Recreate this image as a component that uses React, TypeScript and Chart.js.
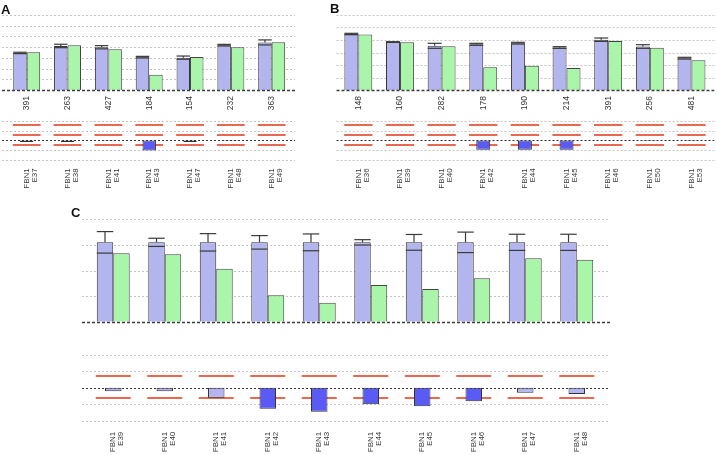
import React, { useEffect, useRef } from "react";
import { Chart, registerables } from "chart.js";

Chart.register(...registerables);

const FONT = "'Liberation Sans', Arial, Helvetica, sans-serif";
const gene = "FBN1";

// ---------- Panel A ----------
const numbersA = ["391", "263", "427", "184", "154", "232", "363"];
const exonsA = ["E37", "E38", "E41", "E43", "E47", "E48", "E49"];
const controlA = [69.2, 82.2, 79.8, 61.3, 60.4, 83.7, 88.8];
const controlErrA = [1.3, 3.2, 3.0, 1.5, 3.0, 1.5, 4.7];
const patientA = [70.5, 83.5, 76.0, 28.6, 61.7, 79.8, 89.0];
const ratioA = [-0.15, -0.15, -0.05, -1.0, -0.15, -0.05, 0];

// ---------- Panel B ----------
const numbersB = ["148", "160", "282", "178", "190", "214", "391", "256", "481"];
const exonsB = ["E36", "E39", "E40", "E42", "E44", "E45", "E46", "E50", "E53"];
const controlB = [89.6, 76.8, 70.7, 73.1, 74.9, 68.0, 80.5, 69.6, 50.9];
const controlErrB = [1.1, 0.5, 4.0, 1.6, 1.4, 1.3, 2.7, 2.9, 1.4];
const patientB = [89.0, 76.3, 70.0, 36.3, 39.0, 35.2, 78.4, 67.7, 47.5];
const ratioB = [0, 0, 0, -0.93, -0.93, -0.93, 0, -0.05, -0.05];

// ---------- Panel C ----------
const exonsC = ["E39", "E40", "E41", "E42", "E43", "E44", "E45", "E46", "E47", "E48"];
const controlC = [77.5, 77.5, 77.5, 77.5, 77.5, 77.5, 77.5, 77.5, 77.5, 77.5];
const controlErrC = [10.5, 4.0, 8.5, 6.6, 8.2, 2.6, 7.7, 10.0, 7.9, 7.9];
const patientC = [66.8, 65.8, 51.8, 25.8, 18.6, 35.8, 31.9, 42.4, 61.9, 60.5];
const ratioC = [-0.2, -0.2, -0.6, -1.28, -1.45, -1.0, -1.12, -0.82, -0.3, -0.37];

// thresholds (red lines)
const thresholdsAB = [1.6, 0.58, -0.44];
const thresholdsC = [0.75, -0.63];

const BLUE = "#b3b5ee";
const GREEN = "#a9f5a9";
const DARK_BOX = "#5a5af5";
const LIGHT_BOX = "#b4b4f0";
const RED = "#e8694f";

type DecoOpts = {
  extL: number;
  extR: number;
  errors?: number[];
  thresholds?: number[];
  zeroTop: boolean;
  redFrac?: number;
};

function decoPlugin(o: DecoOpts) {
  const hline = (ctx: CanvasRenderingContext2D, x1: number, x2: number, y: number) => {
    ctx.beginPath();
    ctx.moveTo(x1, y);
    ctx.lineTo(x2, y);
    ctx.stroke();
  };
  const zero = (chart: any) => {
    const { ctx, chartArea: a, scales } = chart;
    const py = Math.round(scales.y.getPixelForValue(0)) + 0.5;
    ctx.save();
    ctx.strokeStyle = o.zeroTop ? "#3c3c3c" : "#333";
    ctx.lineWidth = o.zeroTop ? 1.3 : 1;
    ctx.setLineDash(o.zeroTop ? [3, 2] : [2, 2]);
    hline(ctx, a.left - o.extL, a.right + o.extR, py);
    ctx.restore();
  };
  return {
    id: "deco",
    beforeDatasetsDraw(chart: any) {
      const { ctx, chartArea: a, scales } = chart;
      const x = scales.x;
      const y = scales.y;
      ctx.save();
      ctx.strokeStyle = "#c4c4c4";
      ctx.lineWidth = 1;
      ctx.setLineDash([2, 2]);
      for (const t of y.ticks) {
        if (t.value === 0) continue;
        hline(ctx, a.left - o.extL, a.right + o.extR, Math.round(y.getPixelForValue(t.value)) + 0.5);
      }
      if (o.thresholds) {
        ctx.setLineDash([]);
        ctx.strokeStyle = RED;
        ctx.lineWidth = 2;
        const step = x.getPixelForValue(1) - x.getPixelForValue(0);
        const half = (step * (o.redFrac ?? 0.68)) / 2;
        const n = chart.data.labels.length;
        for (let i = 0; i < n; i++) {
          const cx = x.getPixelForValue(i);
          for (const th of o.thresholds) hline(ctx, cx - half, cx + half, Math.round(y.getPixelForValue(th)));
        }
      }
      ctx.restore();
      if (!o.zeroTop) zero(chart);
    },
    afterDatasetsDraw(chart: any) {
      if (o.errors) {
        const { ctx, scales } = chart;
        const y = scales.y;
        const meta = chart.getDatasetMeta(0);
        const vals = chart.data.datasets[0].data as number[];
        ctx.save();
        ctx.strokeStyle = "#3a3a3a";
        ctx.lineWidth = 1.2;
        meta.data.forEach((el: any, i: number) => {
          const { x: bx, width } = el.getProps(["x", "width"], true);
          const v = vals[i];
          const e = o.errors![i];
          const yv = y.getPixelForValue(v);
          const yt = y.getPixelForValue(v + e);
          const yl = y.getPixelForValue(v - e);
          const hw = width / 2;
          ctx.beginPath();
          ctx.moveTo(bx, yv);
          ctx.lineTo(bx, yt);
          ctx.stroke();
          hline(ctx, bx - hw, bx + hw, yt);
          hline(ctx, bx - hw, bx + hw, yl);
        });
        ctx.restore();
      }
      if (o.zeroTop) zero(chart);
    },
  };
}

type TopP = {
  labels: string[];
  control: number[];
  patient: number[];
  errors: number[];
  max: number;
  step: number;
  pad: { left: number; right: number; top: number };
  axisH: number;
  showLabels: boolean;
  catPct: number;
  extL: number;
  extR: number;
};

function topConfig(p: TopP): any {
  return {
    type: "bar",
    data: {
      labels: p.labels,
      datasets: [
        {
          data: p.control,
          backgroundColor: BLUE,
          borderColor: "#333",
          borderWidth: 1,
          categoryPercentage: p.catPct,
          barPercentage: 1,
        },
        {
          data: p.patient,
          backgroundColor: GREEN,
          borderColor: "#444",
          borderWidth: 1,
          categoryPercentage: p.catPct,
          barPercentage: 1,
        },
      ],
    },
    options: {
      animation: false,
      responsive: false,
      maintainAspectRatio: false,
      devicePixelRatio: 1,
      layout: { padding: { left: p.pad.left, right: p.pad.right, top: p.pad.top, bottom: 0 } },
      plugins: { legend: { display: false }, tooltip: { enabled: false } },
      scales: {
        x: {
          grid: { display: false, drawTicks: false },
          border: { display: false },
          ticks: {
            display: p.showLabels,
            minRotation: 90,
            maxRotation: 90,
            autoSkip: false,
            padding: 6,
            color: "#333",
            font: { family: FONT, size: 8.5 },
          },
          afterFit: (s: any) => {
            s.height = p.axisH;
          },
        },
        y: {
          display: false,
          min: 0,
          max: p.max,
          ticks: { stepSize: p.step, font: { size: 1 }, maxTicksLimit: 100 },
        },
      },
    },
    plugins: [decoPlugin({ extL: p.extL, extR: p.extR, errors: p.errors, zeroTop: true })],
  };
}

type BotP = {
  exons: string[];
  ratio: number[];
  thresholds: number[];
  pad: { left: number; right: number; top: number };
  axisH: number;
  labelPad: number;
  catPct: number;
  extL: number;
  extR: number;
};

function bottomConfig(p: BotP): any {
  const low = Math.min(...p.thresholds);
  return {
    type: "bar",
    data: {
      labels: p.exons.map((e) => [gene, e]),
      datasets: [
        {
          data: p.ratio,
          backgroundColor: p.ratio.map((r) => (r < low ? DARK_BOX : LIGHT_BOX)),
          borderColor: "#333",
          borderWidth: 1,
          borderSkipped: false,
          categoryPercentage: p.catPct,
          barPercentage: 0.5,
        },
      ],
    },
    options: {
      animation: false,
      responsive: false,
      maintainAspectRatio: false,
      devicePixelRatio: 1,
      layout: { padding: { left: p.pad.left, right: p.pad.right, top: p.pad.top, bottom: 0 } },
      plugins: { legend: { display: false }, tooltip: { enabled: false } },
      scales: {
        x: {
          grid: { display: false, drawTicks: false },
          border: { display: false },
          ticks: {
            minRotation: 90,
            maxRotation: 90,
            autoSkip: false,
            padding: p.labelPad,
            color: "#3a3a3a",
            font: { family: FONT, size: 8, lineHeight: 1 },
          },
          afterFit: (s: any) => {
            s.height = p.axisH;
          },
        },
        y: {
          display: false,
          min: -2,
          max: 2,
          ticks: { stepSize: 1, font: { size: 1 }, maxTicksLimit: 100 },
        },
      },
    },
    plugins: [decoPlugin({ extL: p.extL, extR: p.extR, thresholds: p.thresholds, zeroTop: false, redFrac: 0.68 })],
  };
}

function ChartBox(props: { left: number; top: number; width: number; height: number; make: () => any }) {
  const ref = useRef<HTMLCanvasElement>(null);
  useEffect(() => {
    const c = new Chart(ref.current as HTMLCanvasElement, props.make());
    return () => c.destroy();
  }, []);
  return (
    <div style={{ position: "absolute", left: props.left, top: props.top, width: props.width, height: props.height }}>
      <canvas
        ref={ref}
        width={props.width}
        height={props.height}
        style={{ width: props.width, height: props.height, display: "block" }}
      />
    </div>
  );
}

const letterStyle = (left: number, top: number): React.CSSProperties => ({
  position: "absolute",
  left,
  top,
  font: `bold 13px ${FONT}`,
  lineHeight: "15px",
  color: "#111",
});

export default function App() {
  return (
    <div
      style={{
        position: "fixed",
        left: 0,
        top: 0,
        width: 717,
        height: 455,
        background: "#fff",
        overflow: "hidden",
      }}
    >
      <ChartBox
        left={0}
        top={0}
        width={297}
        height={115}
        make={() =>
          topConfig({
            labels: numbersA,
            control: controlA,
            patient: patientA,
            errors: controlErrA,
            max: 140,
            step: 20,
            pad: { left: 6.3, right: 4.9, top: 15 },
            axisH: 25,
            showLabels: true,
            catPct: 0.66,
            extL: 4.3,
            extR: 3,
          })
        }
      />
      <ChartBox
        left={0}
        top={115}
        width={297}
        height={85}
        make={() =>
          bottomConfig({
            exons: exonsA,
            ratio: ratioA,
            thresholds: thresholdsAB,
            pad: { left: 6.3, right: 4.9, top: 5.7 },
            axisH: 39.7,
            labelPad: 8,
            catPct: 0.66,
            extL: 4.3,
            extR: 3,
          })
        }
      />
      <ChartBox
        left={300}
        top={0}
        width={417}
        height={115}
        make={() =>
          topConfig({
            labels: numbersB,
            control: controlB,
            patient: patientB,
            errors: controlErrB,
            max: 120,
            step: 20,
            pad: { left: 37.5, right: 4.7, top: 15 },
            axisH: 25,
            showLabels: true,
            catPct: 0.67,
            extL: 1,
            extR: 2,
          })
        }
      />
      <ChartBox
        left={300}
        top={115}
        width={417}
        height={85}
        make={() =>
          bottomConfig({
            exons: exonsB,
            ratio: ratioB,
            thresholds: thresholdsAB,
            pad: { left: 37.5, right: 4.7, top: 5.7 },
            axisH: 39.7,
            labelPad: 8,
            catPct: 0.67,
            extL: 1,
            extR: 2,
          })
        }
      />
      <ChartBox
        left={60}
        top={200}
        width={560}
        height={125}
        make={() =>
          topConfig({
            labels: exonsC,
            control: controlC,
            patient: patientC,
            errors: controlErrC,
            max: 100,
            step: 25,
            pad: { left: 27.5, right: 17.5, top: 19.3 },
            axisH: 3.3,
            showLabels: false,
            catPct: 0.64,
            extL: 5.5,
            extR: 7.5,
          })
        }
      />
      <ChartBox
        left={60}
        top={330}
        width={560}
        height={125}
        make={() =>
          bottomConfig({
            exons: exonsC,
            ratio: ratioC,
            thresholds: thresholdsC,
            pad: { left: 27.5, right: 17.5, top: 25 },
            axisH: 34.3,
            labelPad: 11,
            catPct: 0.64,
            extL: 5.5,
            extR: 7.5,
          })
        }
      />
      <div style={letterStyle(1, 2.3)}>A</div>
      <div style={letterStyle(330, 0.6)}>B</div>
      <div style={letterStyle(71, 205.3)}>C</div>
    </div>
  );
}
